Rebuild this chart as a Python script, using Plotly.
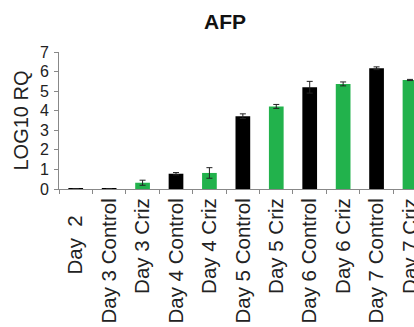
import plotly.graph_objects as go

categories = ["Day 2", "Day 3 Control", "Day 3 Criz", "Day 4 Control", "Day 4 Criz",
              "Day 5 Control", "Day 5 Criz", "Day 6 Control", "Day 6 Criz",
              "Day 7 Control", "Day 7 Criz"]
values = [0.02, 0.02, 0.32, 0.78, 0.82, 3.72, 4.22, 5.2, 5.37, 6.17, 5.57]
errors = [0.0, 0.0, 0.13, 0.06, 0.27, 0.12, 0.1, 0.3, 0.1, 0.07, 0.03]
colors = ["#000000", "#000000", "#22b24c", "#000000", "#22b24c",
          "#000000", "#22b24c", "#000000", "#22b24c", "#000000", "#22b24c"]
y_ticks = [0, 1, 2, 3, 4, 5, 6, 7]
# "Day 2" sits lower (and is spaced wider) than the others in the reference
tick_text = ["Day\u00a0\u00a02" + "\u00a0" * 3 if c == "Day 2" else c for c in categories]

fig = go.Figure()
fig.add_trace(go.Bar(
    x=categories, y=values,
    marker=dict(color=colors, line=dict(width=0)),
    width=0.44,
    error_y=dict(type="data", array=errors, color="#222222", thickness=1, width=3, visible=True),
))

font = "Liberation Sans, Arial, sans-serif"
fig.update_layout(
    width=414, height=327,
    margin=dict(l=59, r=0, t=52, b=138, autoexpand=False),
    paper_bgcolor="white", plot_bgcolor="white",
    showlegend=False,
    title=dict(text="<b>AFP</b>", x=225/414, xref="container", xanchor="center",
               y=1 - 22/327, yref="container", yanchor="middle",
               font=dict(family=font, size=21, color="#111111")),
    font=dict(family=font, color="#222222"),
)
fig.update_xaxes(
    type="category", range=[-0.5, 10.12], automargin=False,
    tickmode="array", tickvals=categories, ticktext=tick_text,
    tickangle=-90, tickfont=dict(size=20.5, color="#222222"),
    showline=True, linecolor="#888888", linewidth=1,
    ticks="outside", ticklen=4, tickcolor="#888888", tickson="boundaries",
    showgrid=False, zeroline=False,
)
fig.update_yaxes(
    range=[0, 7], tickvals=y_ticks, automargin=False,
    tickfont=dict(size=16, color="#222222"),
    showline=True, linecolor="#888888", linewidth=1,
    ticks="outside", ticklen=4, tickcolor="#888888",
    ticklabelstandoff=2,
    showgrid=False, zeroline=False,
    title=dict(text="LOG10 RQ", font=dict(size=20, color="#222222"), standoff=5),
)

fig.write_html("out.html")
